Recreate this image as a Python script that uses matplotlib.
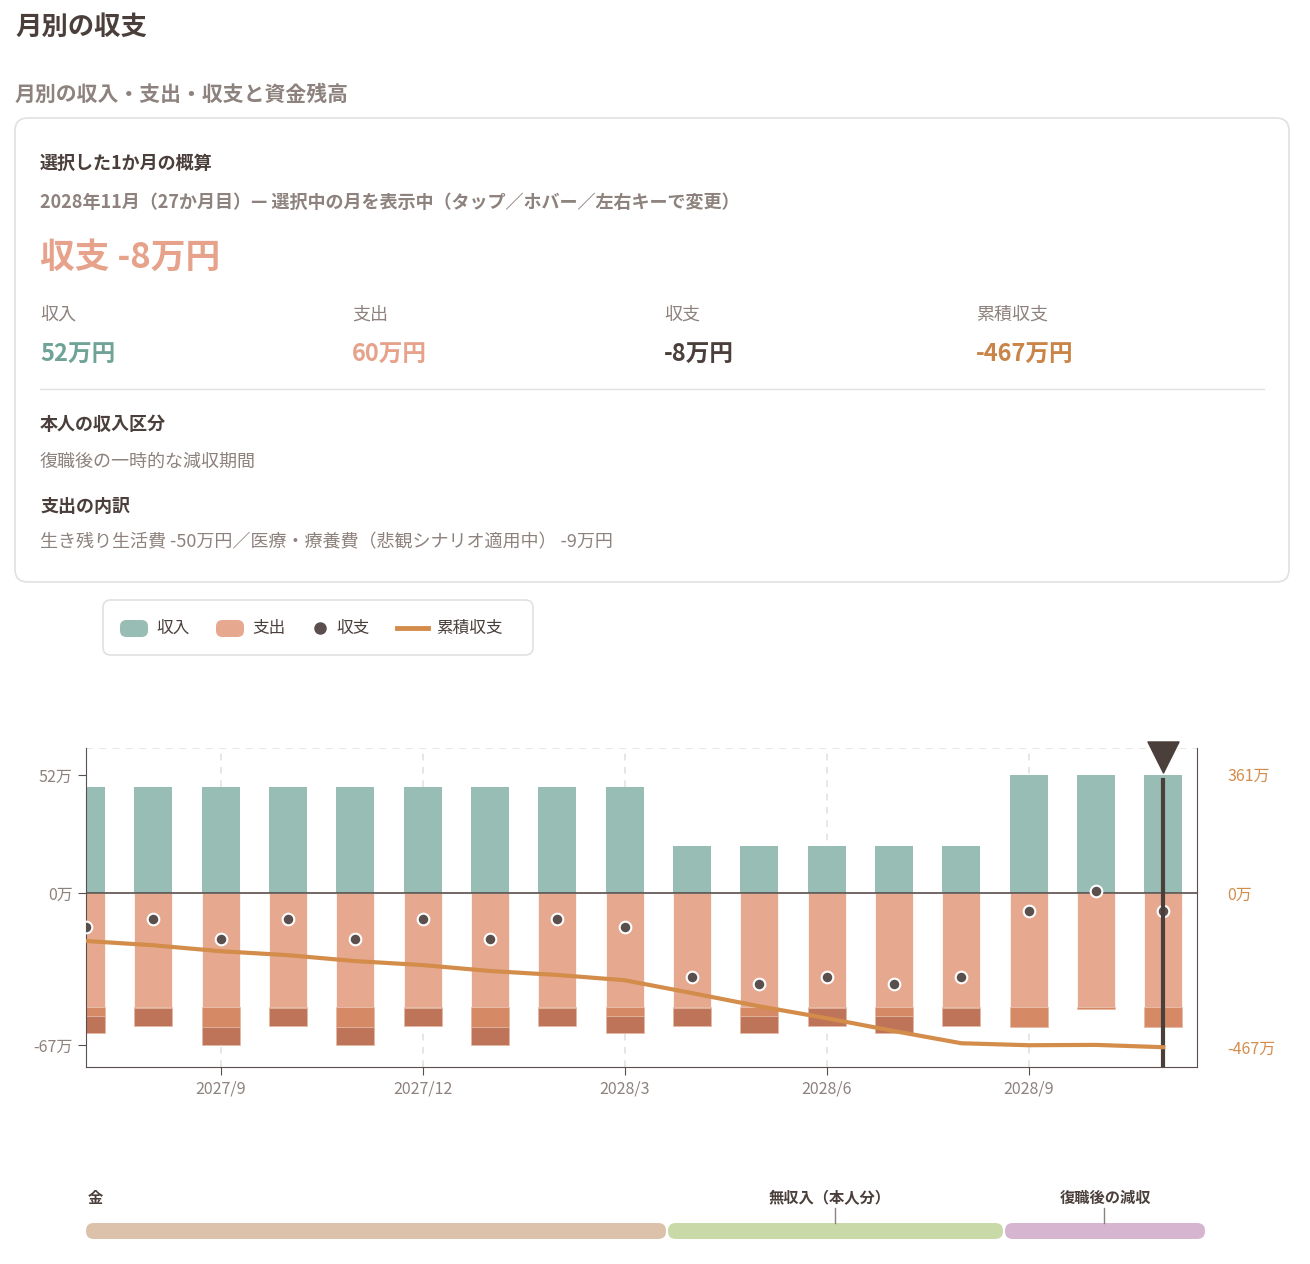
import matplotlib
matplotlib.use("Agg")
import matplotlib.pyplot as plt
from matplotlib.patches import FancyBboxPatch, Rectangle
import numpy as np

plt.rcParams['font.family'] = ['Noto Sans CJK JP', 'DejaVu Sans']

months = ["2027/7","2027/8","2027/9","2027/10","2027/11","2027/12","2028/1","2028/2","2028/3",
          "2028/4","2028/5","2028/6","2028/7","2028/8","2028/9","2028/10","2028/11"]
income = [47,47,47,47,47,47,47,47,47,21,21,21,21,21,52,52,52]
living = [-50]*17
medical = [-4,-0.7,-9,-0.7,-9,-0.7,-9,-0.7,-4,-0.7,-4,-0.7,-4,-0.7,-9,-1,-9]
other = [-7.5,-8,-8,-8,-8,-8,-8,-8,-7.5,-8,-7.5,-8,-7.5,-8,0,0,0]
net = [-15,-11.5,-20,-11.5,-20,-11.5,-20,-11.5,-15,-37,-40,-37,-40,-37,-8,1,-8]
cumulative = [-145,-158,-176,-188,-206,-218,-236,-248,-264,-303,-343,-379,-418,-455,-461,-460,-467]
xtick_labels = ["2027/9","2027/12","2028/3","2028/6","2028/9"]
xtick_idx = [2,5,8,11,14]
phases = ["金","無収入（本人分）","復職後の減収"]

W,H = 1310,1264
fig = plt.figure(figsize=(W/100,H/100), dpi=100)
DARK="#4a3f3b"; GREY="#8d827d"

def T(x,y,s,size,color=DARK,weight="normal",ha="left"):
    fig.text(x/W,1-y/H,s,fontsize=size,color=color,fontweight=weight,ha=ha,va="center")

T(15,27,"月別の収支",19,weight="bold")
T(15,94,"月別の収入・支出・収支と資金残高",15,color=GREY,weight="bold")
fig.patches.append(FancyBboxPatch((15/W,1-582/H),1274/W,464/H,boxstyle="round,pad=0,rounding_size=0.01",
    transform=fig.transFigure,fc="white",ec="#e3e0de",lw=1.2))
T(40,163,"選択した1か月の概算",13,weight="bold")
T(40,202,"2028年11月（27か月目）— 選択中の月を表示中（タップ／ホバー／左右キーで変更）",13,color=GREY,weight="bold")
T(40,257,"収支 -8万円",25,color="#e6a28a",weight="bold")
for x,lab,val,col in [(40,"収入","52万円","#6fa397"),(352,"支出","60万円","#e6a28a"),
                      (664,"収支","-8万円",DARK),(976,"累積収支","-467万円","#c98447")]:
    T(x,315,lab,13,color=GREY)
    T(x,355,val,17,color=col,weight="bold")
fig.add_artist(plt.Line2D([40/W,1264/W],[1-389/H,1-389/H],color="#e3e0de",lw=1))
T(40,425,"本人の収入区分",13,weight="bold")
T(40,462,"復職後の一時的な減収期間",13,color=GREY)
T(40,506,"支出の内訳",13,weight="bold")
T(40,542,"生き残り生活費 -50万円／医療・療養費（悲観シナリオ適用中） -9万円",13,color=GREY)

# legend box
fig.patches.append(FancyBboxPatch((103/W,1-655/H),430/W,55/H,boxstyle="round,pad=0,rounding_size=0.006",
    transform=fig.transFigure,fc="white",ec="#e3e0de",lw=1.2))
fig.patches.append(FancyBboxPatch((120/W,1-637/H),28/W,17/H,boxstyle="round,pad=0,rounding_size=0.005",
    transform=fig.transFigure,fc="#97bdb5",ec="none"))
T(156,628,"収入",12)
fig.patches.append(FancyBboxPatch((216/W,1-637/H),28/W,17/H,boxstyle="round,pad=0,rounding_size=0.005",
    transform=fig.transFigure,fc="#e6a990",ec="none"))
T(252,628,"支出",12)
fig.add_artist(plt.Line2D([320/W],[1-628/H],marker="o",ms=8,color="#5a4f4c",ls="none"))
T(336,628,"収支",12)
fig.add_artist(plt.Line2D([397/W,428/W],[1-628/H,1-628/H],color="#d38c4a",lw=3.5))
T(436,628,"累積収支",12)

# chart
ax = fig.add_axes([86/W,1-1067/H,1111/W,319/H])
x = np.arange(len(months))
bw = 0.56
ax.bar(x,income,bw,color="#97bdb5",zorder=2)
ax.bar(x,living,bw,color="#e6a990",ec="white",lw=0.5,zorder=2)
ax.bar(x,medical,bw,bottom=living,color="#d58a65",ec="#e6b9a5",lw=0.5,zorder=2)
ax.bar(x,other,bw,bottom=np.array(living)+np.array(medical),color="#bd7459",ec="#e6b9a5",lw=0.5,zorder=2)
ax.axhline(0,color="#5a4f4c",lw=1.2,zorder=3)
ax.scatter(x,net,s=70,color="#5a4f4c",ec="white",lw=1.5,zorder=6)
ax.set_xlim(0,16.5)
ax.set_ylim(-76.6,64)
for i in xtick_idx:
    ax.axvline(i,color="#e2e2e2",ls=(0,(4,4)),lw=1.2,zorder=1)
ax.axhline(64,color="#e2e2e2",ls=(0,(4,4)),lw=1.2)
ax.set_xticks(xtick_idx); ax.set_xticklabels(xtick_labels)
ax.set_yticks([52,0,-67]); ax.set_yticklabels(["52万","0万","-67万"])
ax.tick_params(axis="x",colors=GREY,labelsize=11.5,length=6,color="#5a4f4c")
ax.tick_params(axis="y",colors=GREY,labelsize=11.5,length=6,color="#5a4f4c")
for s in ["top","right"]: ax.spines[s].set_visible(False)
for s in ["left","bottom"]: ax.spines[s].set_color("#5a4f4c")
ax2 = ax.twinx()
ax2.plot(x,cumulative,color="#d38c4a",lw=3,zorder=5)
ax2.set_ylim(-527,440)
ax2.set_yticks([361,0,-467]); ax2.set_yticklabels(["361万","0万","-467万"])
ax2.tick_params(axis="y",colors="#d38c4a",labelsize=11.5,length=0,pad=22)
for s in ["top","left","bottom"]: ax2.spines[s].set_visible(False)
ax2.spines["right"].set_color("#5a4f4c")
ax.axvline(16,color="#4a3f3b",lw=3,ymax=0.9,zorder=7)
ax.scatter([16],[60],marker="v",s=500,color="#4a3f3b",zorder=8,clip_on=False)

# phase bar
y0=1231
segs=[(86,666,"#dcc2aa"),(668,1003,"#cad9a8"),(1005,1205,"#d6b5d0")]
for a,b,c in segs:
    fig.patches.append(FancyBboxPatch((a/W,1-(y0+8)/H),(b-a)/W,16/H,boxstyle="round,pad=0,rounding_size=0.006",
        transform=fig.transFigure,fc=c,ec="none"))
T(88,1198,phases[0],11,weight="bold")
T(830,1198,phases[1],11,weight="bold",ha="center")
T(1105,1198,phases[2],11,weight="bold",ha="center")
for xx in [835,1104]:
    fig.add_artist(plt.Line2D([xx/W,xx/W],[1-1208/H,1-1223/H],color="#8d827d",lw=1))
fig.savefig("out.png",dpi=100,facecolor="white")
